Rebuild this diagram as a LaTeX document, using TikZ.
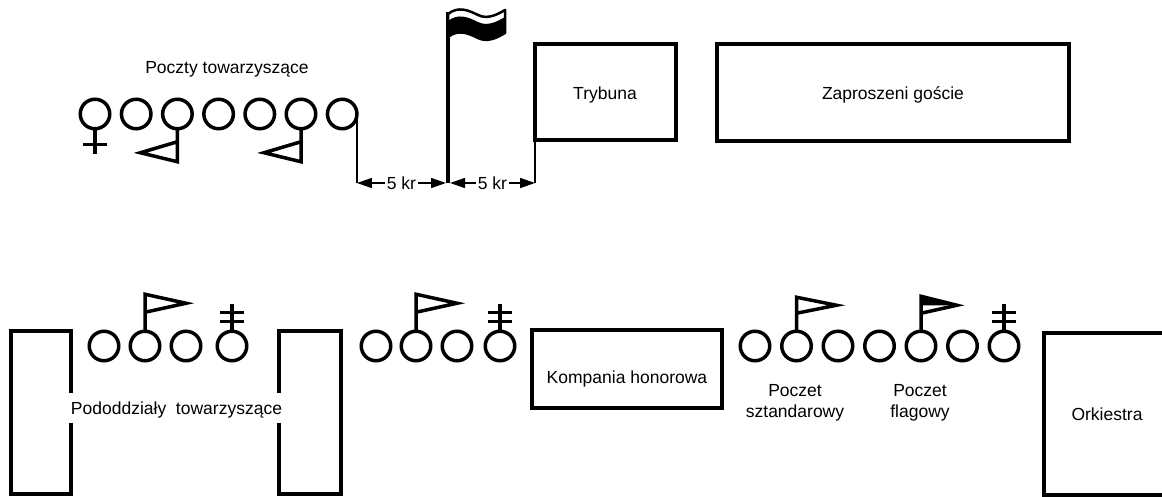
\documentclass[tikz,border=0pt]{standalone}
\usepackage{fontspec}
\setmainfont{Liberation Sans}
\usetikzlibrary{arrows.meta,calc}
\begin{document}
\begin{tikzpicture}[x=1pt,y=-1pt,
  person/.style={circle, draw, line width=3.5pt, minimum size=29.5pt, inner sep=0pt, outer sep=0pt},
  boxline/.style={line width=4pt},
  box/.style={draw, line width=4pt, inner sep=0pt, outer sep=0pt},
  thinline/.style={line width=1.5pt},
  symb/.style={line width=3.5pt},
  lbl/.style={font=\fontsize{17.5}{21}\selectfont, inner sep=0pt, anchor=base},
  dim/.style={thinline, {Triangle[length=15pt,width=10pt]}-{Triangle[length=15pt,width=10pt]}}
]
\useasboundingbox (0,0) rectangle (1162,497);

% ---------- top row ----------
\node[lbl] (ptlabel) at (227,74) {Poczty towarzyszące};
\foreach \i in {1,...,7}{
  \node[person] (t\i) at ({95+41.2*(\i-1)},114) {};
}
% cross under t1
\draw[symb] (t1.south) -- ++(0,25) coordinate (t1b);
\draw[symb] ($(t1.south)+(-12,16)$) -- ++(24,0);
% pennants under t3 and t6
\draw[symb, line join=miter] (t3.south) -- ++(0,33) -- ++(-37,-9) -- ++(37,-11);
\draw[symb, line join=miter] (t6.south) -- ++(0,33) -- ++(-37,-9) -- ++(37,-11);

% flag on pole
\coordinate (pb) at (448,183);
\coordinate (pt) at (448,12);
\draw[line width=4pt] (pb) -- (pt);
\filldraw[line width=2.5pt, fill=white, line join=round]
  (448,14) .. controls (458,6) and (468,10) .. (478,15)
  .. controls (488,20) and (498,14) .. (505,10)
  -- (505,33) .. controls (498,37) and (488,43) .. (478,38)
  .. controls (468,33) and (458,29) .. (448,37) -- cycle;
\fill
  (448,21) .. controls (458,13) and (468,17) .. (478,22)
  .. controls (488,27) and (498,21) .. (505,17)
  -- (505,33) .. controls (498,37) and (488,43) .. (478,38)
  .. controls (468,33) and (458,29) .. (448,37) -- cycle;

% boxes top
\node[box, minimum width=141pt, minimum height=96pt] (tryb) at (605.5,92) {};
\node[lbl] at (605,100) {Trybuna};
\node[box, minimum width=352pt, minimum height=97pt] (gosc) at (893,92.5) {};
\node[lbl] at (893,100) {Zaproszeni goście};

% dimension lines
\coordinate (e1) at (t7.east |- pb);
\coordinate (e2) at (tryb.south west |- pb);
\draw[thinline] (t7.east) -- (e1);
\draw[thinline] (tryb.south west) -- (e2);
\draw[dim] (e1) -- node[fill=white, inner sep=2pt, font=\fontsize{17.5}{21}\selectfont] {5 kr} (446,183);
\draw[dim] (450,183) -- node[fill=white, inner sep=2pt, font=\fontsize{17.5}{21}\selectfont] {5 kr} (e2);

% ---------- bottom row ----------
% left boxes with gaps for label
\draw[boxline] (70.5,393) -- (70.5,330.5) -- (10.5,330.5) -- (10.5,494) -- (70.5,494) -- (70.5,423);
\draw[boxline] (279,393) -- (279,330.5) -- (341,330.5) -- (341,494) -- (279,494) -- (279,423);
\node[lbl] (podl) at (176.5,414) {Pododdziały\ \ towarzyszące};

% group 1
\node[person] (a1) at (104,346) {};
\node[person] (a2) at (145,346) {};
\node[person] (a3) at (186,346) {};
\node[person] (a4) at (232,346) {};
% group 2
\node[person] (b1) at (376,346) {};
\node[person] (b2) at (416,346) {};
\node[person] (b3) at (457,346) {};
\node[person] (b4) at (500,346) {};
% group 3
\foreach \i in {1,...,7}{
  \node[person] (c\i) at ({755+41.5*(\i-1)},346) {};
}

% flags (pennants up, pointing right)
\draw[symb, line join=miter] (a2.north) -- ++(0,-37) -- ++(41,9) -- ++(-41,9);
\draw[symb, line join=miter] (b2.north) -- ++(0,-37) -- ++(41,9) -- ++(-41,9);
\draw[symb, line join=miter] (c2.north) -- ++(0,-34) -- ++(40,8) -- ++(-40,8);
\fill ($(c5.north)+(0,-35)$) -- ++(36,9) -- ++(-36,0) -- cycle;
\draw[symb, line join=miter] (c5.north) -- ++(0,-35) -- ++(36,9) -- ++(-36,8);

% crosses (double bar)
\foreach \n in {a4,b4,c7}{
  \draw[symb] (\n.north) -- ++(0,-27);
  \draw[symb] ($(\n.north)+(-12,-19)$) -- ++(24,0);
  \draw[symb] ($(\n.north)+(-12,-10)$) -- ++(24,0);
}

% Kompania honorowa
\node[box, minimum width=190pt, minimum height=78pt] (komp) at (627,369) {};
\node[lbl] at (627,383) {Kompania honorowa};

% labels for poczty
\node[lbl] at (795,396) {Poczet};
\node[lbl] at (795,417) {sztandarowy};
\node[lbl] at (920,396) {Poczet};
\node[lbl] at (920,417) {flagowy};

% Orkiestra
\draw[boxline] (1168,333) -- (1044,333) -- (1044,495) -- (1168,495);
\node[lbl] at (1107,420) {Orkiestra};
\end{tikzpicture}
\end{document}
